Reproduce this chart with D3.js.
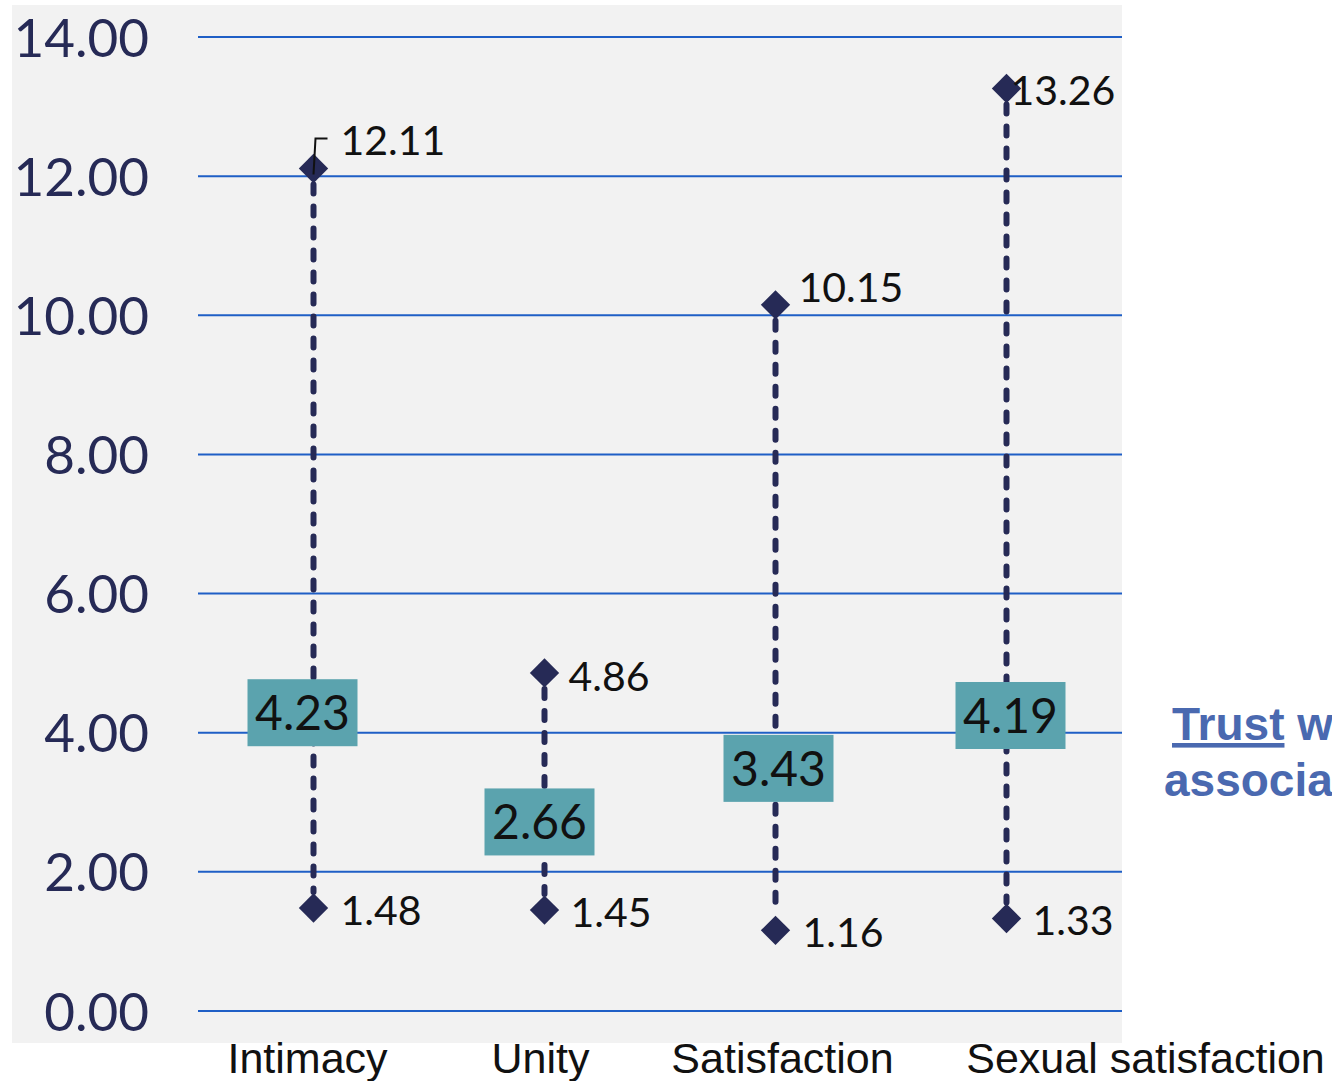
<!DOCTYPE html>
<html><head><meta charset="utf-8">
<script src="https://cdn.jsdelivr.net/npm/d3@7/dist/d3.min.js"></script>
<style>body{margin:0;background:#fff}svg{display:block}</style>
</head><body>
<svg id="c" width="1332" height="1081"></svg>
<script>
const categories = ["Intimacy", "Unity", "Satisfaction", "Sexual satisfaction"];
const highValues = [12.11, 4.86, 10.15, 13.26];
const lowValues = [1.48, 1.45, 1.16, 1.33];
const meanValues = [4.23, 2.66, 3.43, 4.19];
const yTicks = [0, 2, 4, 6, 8, 10, 12, 14];

const svg = d3.select("#c");
const navy = "#262a56";
const numFont = "Lato, 'Open Sans', sans-serif";

svg.append("rect").attr("x", 12).attr("y", 5).attr("width", 1110).attr("height", 1038).attr("fill", "#f2f2f2");

const x = d3.scaleBand().domain(categories).range([198, 1122]);
const y = d3.scaleLinear().domain([0, 14]).range([1011, 37]);
const cx = c => x(c) + x.bandwidth() / 2;

// gridlines
svg.append("g").selectAll("line").data(yTicks).join("line")
  .attr("x1", 198).attr("x2", 1122)
  .attr("y1", d => y(d)).attr("y2", d => y(d))
  .attr("stroke", "#1f5fc6").attr("stroke-width", 2);

// y axis labels
const yAxis = d3.axisLeft(y).tickValues(yTicks).tickFormat(d3.format(".2f")).tickSize(0).tickPadding(0);
const ga = svg.append("g").attr("transform", "translate(149,0)").call(yAxis);
ga.select(".domain").remove();
ga.selectAll("text").attr("font-family", numFont).attr("font-size", 53).attr("fill", navy).attr("dy", "0.36em");

// x category labels
const catDx = [-6, -4, 7, 139];
const xAxis = d3.axisBottom(x).tickSize(0).tickPadding(0);
const gx = svg.append("g").attr("transform", "translate(0,1041)").call(xAxis);
gx.select(".domain").remove();
gx.selectAll("text").attr("font-family", "'Liberation Sans', Arial, sans-serif").attr("font-size", 43)
  .attr("fill", "#111").attr("dy", "0.74em")
  .attr("dx", (d, i) => catDx[i]);

// dashed range lines
svg.append("g").selectAll("line").data(categories).join("line")
  .attr("x1", c => cx(c)).attr("x2", c => cx(c))
  .attr("y1", (c, i) => y(highValues[i]) + 16).attr("y2", (c, i) => y(lowValues[i]) - 16)
  .attr("stroke", navy).attr("stroke-width", 6).attr("stroke-dasharray", "9,13").attr("stroke-linecap", "round");

// diamonds
const sym = d3.symbol().type(d3.symbolSquare).size(430);
const pts = [];
categories.forEach((c, i) => { pts.push({c, v: highValues[i], t: "h"}); pts.push({c, v: lowValues[i], t: "l"}); });
svg.append("g").selectAll("path").data(pts).join("path")
  .attr("d", sym)
  .attr("transform", d => `translate(${cx(d.c)},${y(d.v)}) rotate(45)`)
  .attr("fill", navy);

// leader line for first high label
svg.append("path")
  .attr("d", `M${cx(categories[0])},${y(highValues[0]) + 6} L${cx(categories[0]) + 2},${y(highValues[0]) - 30} L${cx(categories[0]) + 14},${y(highValues[0]) - 30}`)
  .attr("fill", "none").attr("stroke", "#111").attr("stroke-width", 2);

// value labels
const lblOff = { h: [[27, -28], [24, 3], [23, -18], [4, 2]], l: [[27, 2], [26, 2], [27, 2], [26, 2]] };
svg.append("g").selectAll("text").data(pts).join("text")
  .attr("x", d => cx(d.c) + lblOff[d.t][categories.indexOf(d.c)][0])
  .attr("y", d => y(d.v) + lblOff[d.t][categories.indexOf(d.c)][1])
  .attr("dy", "0.36em")
  .attr("font-family", numFont).attr("font-size", 41).attr("fill", "#111")
  .text(d => d.v.toFixed(2));

// mean boxes
const boxDx = [-11, -5, 3, 4];
const gm = svg.append("g").selectAll("g").data(categories).join("g")
  .attr("transform", (c, i) => `translate(${cx(c) + boxDx[i]},${y(meanValues[i]) - 4})`);
gm.append("rect").attr("x", -55).attr("y", -33.5).attr("width", 110).attr("height", 67).attr("fill", "#5ba3ae");
gm.append("text").attr("text-anchor", "middle").attr("dy", "0.36em")
  .attr("font-family", numFont).attr("font-size", 48).attr("fill", "#111")
  .text((c, i) => meanValues[i].toFixed(2));

// side note text
const side = svg.append("g").attr("font-family", "'Liberation Sans', Arial, sans-serif").attr("font-weight", "bold")
  .attr("font-size", 46).attr("fill", "#4a69b0");
const t1 = side.append("text").attr("x", 1172).attr("y", 740);
t1.append("tspan").attr("text-decoration", "underline").text("Trust");
t1.append("tspan").text(" was");
side.append("text").attr("x", 1164).attr("y", 796).text("associated");
</script>
</body></html>
